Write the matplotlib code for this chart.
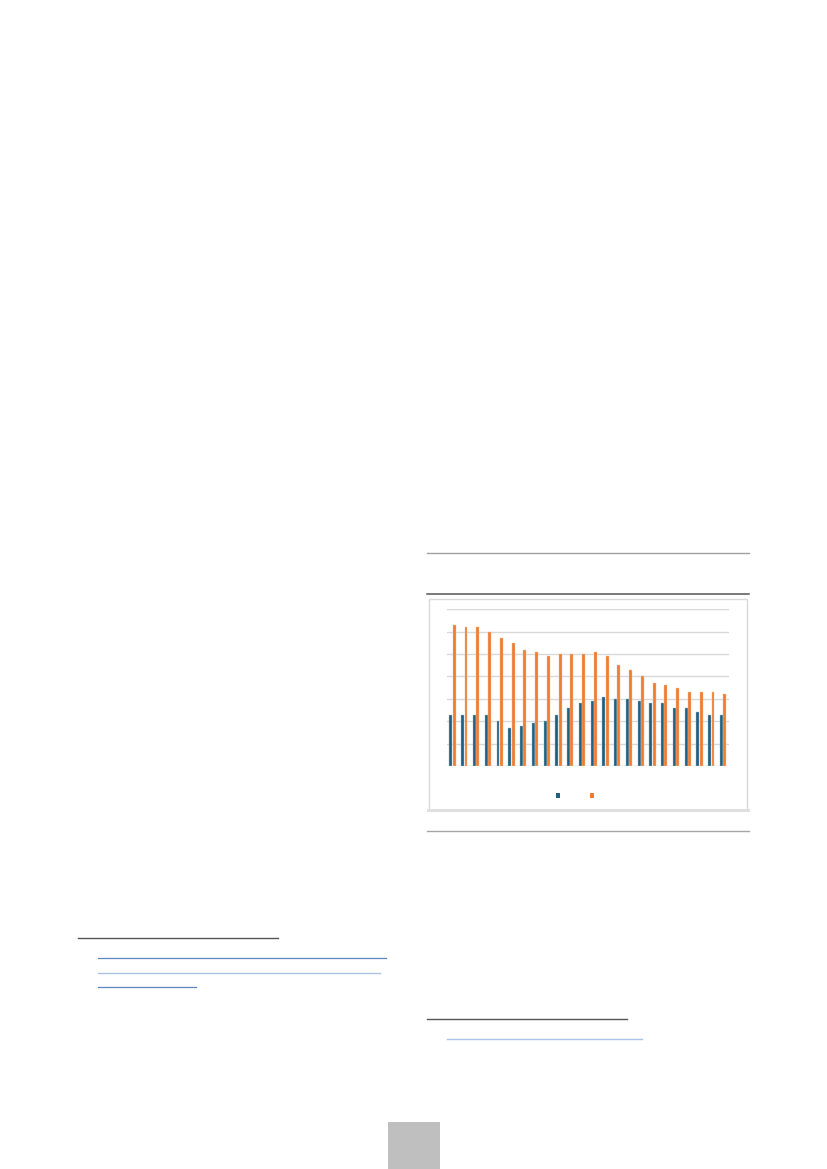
import matplotlib
matplotlib.use("Agg")
import matplotlib.pyplot as plt
from matplotlib.lines import Line2D
from matplotlib.patches import Rectangle
import numpy as np

# ---- data (grid units) ----
categories = list(range(1, 25))
series_blue = [2.3, 2.3, 2.3, 2.3, 2.0, 1.7, 1.8, 1.9, 2.0, 2.3, 2.6, 2.8,
               2.9, 3.1, 3.0, 3.0, 2.9, 2.8, 2.8, 2.6, 2.6, 2.4, 2.3, 2.3]
series_orange = [6.3, 6.2, 6.2, 6.0, 5.7, 5.5, 5.2, 5.1, 4.9, 5.0, 5.0, 5.0,
                 5.1, 4.9, 4.5, 4.3, 4.0, 3.7, 3.6, 3.5, 3.3, 3.3, 3.3, 3.2]
y_ticks = [0, 1, 2, 3, 4, 5, 6, 7]

W, H = 827, 1169
fig = plt.figure(figsize=(W / 100, H / 100), dpi=100)
fig.patch.set_facecolor("white")


def fx(x):
    return x / W


def fy(y):
    return 1 - y / H


def hline(x0, x1, y, color, lw=1.0):
    fig.add_artist(Line2D([fx(x0), fx(x1)], [fy(y), fy(y)], color=color,
                          lw=lw, transform=fig.transFigure, zorder=1))


# ---- page decorations ----
hline(427.5, 748.5, 553.3, "#a0a0a0", 1.0)
hline(427.5, 748.5, 594.3, "#555555", 1.1)
hline(427.5, 748.5, 831.3, "#a6a6a6", 1.0)

# left footnote
hline(78, 278, 938, "#555555", 1.0)
hline(98, 386, 958.3, "#5b86bf", 0.9)
hline(98, 380, 972.7, "#aac2e0", 1.0)
hline(98, 196, 987.3, "#5b86bf", 0.9)
# right footnote
hline(427.3, 627.3, 1019.3, "#555555", 1.0)
hline(447, 642, 1039.3, "#a9c4e8", 1.0)

# page number box
fig.add_artist(Rectangle((fx(387.5), fy(1169)), fx(440) - fx(387.5),
                         fy(1121.7) - fy(1169), transform=fig.transFigure,
                         facecolor="#bfbfbf", edgecolor="none", zorder=1))

# chart frame
fig.add_artist(Rectangle((fx(428.7), fy(809.5)), fx(746.7) - fx(428.7),
                         fy(599.3) - fy(809.5), transform=fig.transFigure,
                         facecolor="white", edgecolor="#d9d9d9", lw=1.0,
                         zorder=1))
hline(428, 747.5, 809.8, "#e0e0e0", 2.2)

# ---- chart ----
left, right = 446.7, 729.0
top, base = 609.3, 766.0
ax = fig.add_axes([fx(left), fy(base), fx(right) - fx(left), fy(top) - fy(base)])
ax.set_zorder(5)
ax.patch.set_alpha(0)

x = np.arange(len(categories))
bw = 0.25
ax.bar(x - 0.14, series_blue, width=bw, color="#1f5f80", edgecolor="#9fc0d2",
       linewidth=0.3, zorder=3)
ax.bar(x + 0.14, series_orange, width=bw, color="#ed7d31", edgecolor="#f6c4a3",
       linewidth=0.3, zorder=3)

ax.set_xlim(-0.5, len(categories) - 0.5)
ax.set_ylim(0, 7)
ax.set_yticks(y_ticks)
ax.yaxis.grid(True, color="#d9d9d9", lw=1.0, zorder=0)
ax.set_axisbelow(True)
for s in ax.spines.values():
    s.set_visible(False)
ax.axhline(0, color="#d9d9d9", lw=1.0, zorder=2)
ax.tick_params(left=False, bottom=False, labelleft=False, labelbottom=False)

# legend markers
for cx, col in [(557.7, "#1f5f80"), (591.7, "#ed7d31")]:
    fig.add_artist(Rectangle((fx(cx - 2), fy(797.5)), fx(4), fy(0) - fy(4.5),
                             transform=fig.transFigure, facecolor=col,
                             edgecolor="none", zorder=6))

fig.savefig("out.png", dpi=100, facecolor="white")
